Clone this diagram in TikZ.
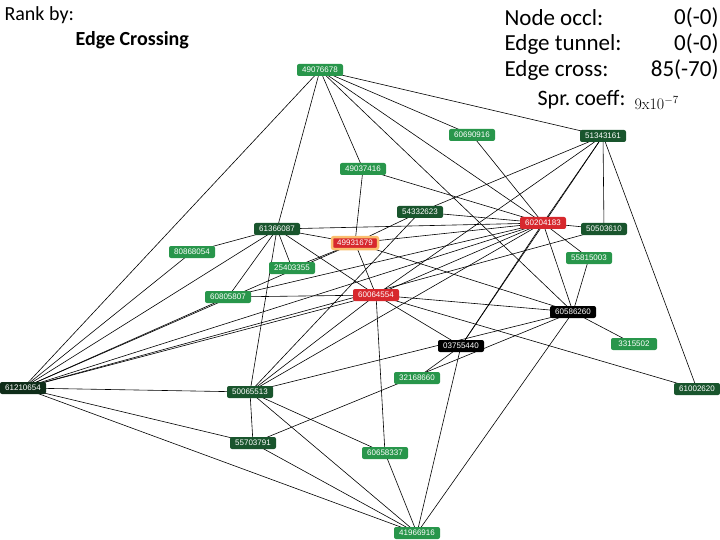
\documentclass[tikz,border=0pt]{standalone}
\usepackage{fontspec}
\setmainfont{Carlito}
\newfontfamily\lbl{Liberation Sans}
\usetikzlibrary{backgrounds}
\definecolor{lgreen}{RGB}{40,150,75}
\definecolor{dgreen}{RGB}{25,85,45}
\definecolor{vdgreen}{RGB}{15,45,25}
\definecolor{hred}{RGB}{215,40,45}
\definecolor{hglow}{RGB}{250,190,110}
\begin{document}
\begin{tikzpicture}[x=1pt,y=-1pt,
  box/.style={rounded corners=2pt,text=white,font=\lbl\fontsize{8}{9}\selectfont,
    minimum width=46pt,minimum height=12pt,inner sep=1pt},
  lg/.style={box,fill=lgreen},
  dg/.style={box,fill=dgreen},
  vd/.style={box,fill=vdgreen},
  rd/.style={box,fill=hred},
  bk/.style={box,fill=black},
  edge/.style={draw=black,line width=0.6pt}]
\useasboundingbox (0,0) rectangle (720,540);

%% header texts
\node[anchor=west,font=\fontsize{20}{22}\selectfont] at (1,15) {Rank by:};
\node[anchor=west,font=\bfseries\fontsize{20}{22}\selectfont] at (72,40) {Edge Crossing};
\begin{scope}[font=\fontsize{23}{25}\selectfont]
  \node[anchor=west] at (501,18) {Node occl:};
  \node[anchor=east] at (722,18) {0(-0)};
  \node[anchor=west] at (501,44) {Edge tunnel:};
  \node[anchor=east] at (722,44) {0(-0)};
  \node[anchor=west] at (501,70) {Edge cross:};
  \node[anchor=east] at (722,70) {85(-70)};
  \node[anchor=east,font=\fontsize{22}{24}\selectfont] at (629,100) {Spr.\ coeff:};
  \node[anchor=west] at (631,103) {\fontspec{Latin Modern Roman}\fontsize{16}{18}\selectfont 9x10$^{-7}$};
\end{scope}

%% nodes
\node[lg] (a) at (320,70)  {49076678};
\node[lg] (b) at (472,135) {60690916};
\node[dg] (c) at (603,136) {51343161};
\node[lg] (d) at (363,169) {49037416};
\node[dg] (e) at (420,212) {54332623};
\node[rd] (f) at (543,223) {60204183};
\node[dg] (g) at (277,229) {61366087};
\node[rd,draw=hglow,line width=2.5pt] (h) at (355,243) {49931679};
\node[lg] (i) at (192,252) {80868054};
\node[dg] (j) at (604,229) {50503610};
\node[lg] (k) at (589,258) {55815003};
\node[lg] (l) at (292,268) {25403355};
\node[lg] (m) at (228,297) {60805807};
\node[rd] (n) at (376,295) {60064554};
\node[bk] (o) at (573,312) {60586260};
\node[bk] (p) at (461,346) {03755440};
\node[lg] (q) at (634,344) {3315502};
\node[vd] (r) at (23,388)  {61210654};
\node[dg] (s) at (250,392) {50065513};
\node[lg] (t) at (417,378) {32168660};
\node[dg] (u) at (697,389) {61002620};
\node[dg] (v) at (253,443) {55703791};
\node[lg] (w) at (385,453) {60658337};
\node[lg] (x) at (417,533) {41966916};

%% edges
\begin{pgfonlayer}{background}
\foreach \s/\t in {a/r,a/g,a/d,a/b,a/c,a/f,a/o,
  d/h,d/f,b/f,c/e,c/f,c/j,c/u,c/n,c/p,
  f/g,f/h,f/e,f/n,f/r,f/s,f/o,f/k,f/p,f/m,f/j,
  g/i,g/l,g/m,g/s,g/h,g/n,g/r,
  h/l,h/e,h/n,h/o,h/r,
  n/m,n/r,n/s,n/p,n/o,n/w,n/u,
  o/k,o/q,o/s,o/x,j/r,
  p/t,p/x,r/s,r/v,r/x,r/m,r/i,
  s/v,s/x,s/w,v/x,v/o,w/x,e/s}
  \draw[edge] (\s.center) -- (\t.center);
\end{pgfonlayer}
\end{tikzpicture}
\end{document}
